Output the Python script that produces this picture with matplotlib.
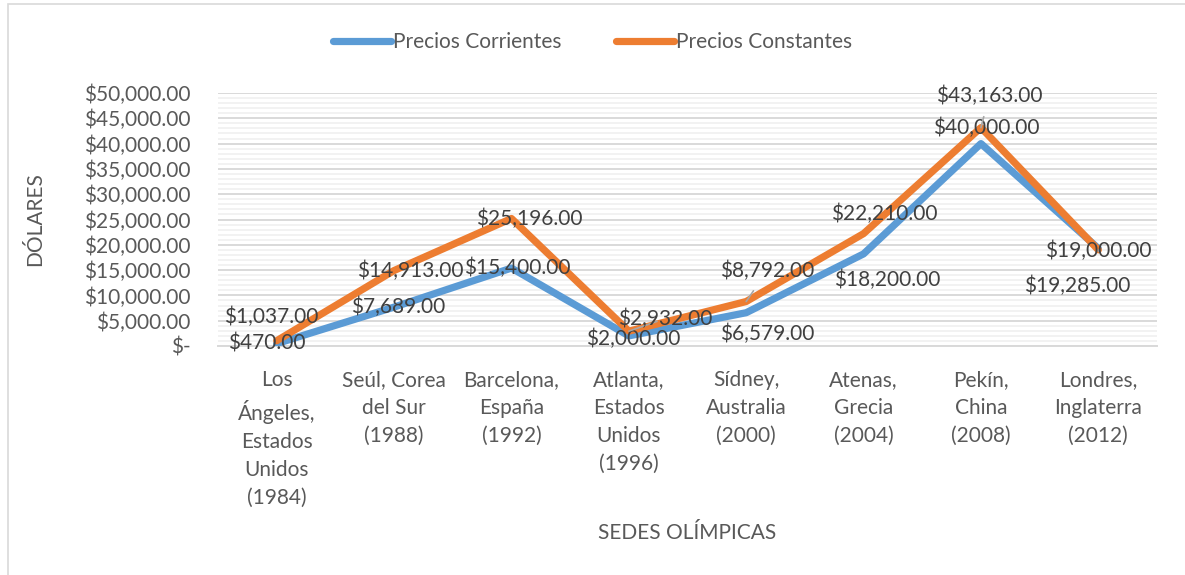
import matplotlib
matplotlib.use('Agg')
import matplotlib.pyplot as plt
from matplotlib.patches import Rectangle
from matplotlib.ticker import MultipleLocator, FuncFormatter

plt.rcParams['font.family'] = ['Lato', 'DejaVu Sans']

sedes = [
    'Los\nÁngeles,\nEstados\nUnidos\n(1984)',
    'Seúl, Corea\ndel Sur\n(1988)',
    'Barcelona,\nEspaña\n(1992)',
    'Atlanta,\nEstados\nUnidos\n(1996)',
    'Sídney,\nAustralia\n(2000)',
    'Atenas,\nGrecia\n(2004)',
    'Pekín,\nChina\n(2008)',
    'Londres,\nInglaterra\n(2012)',
]
corrientes = [470, 7689, 15400, 2000, 6579, 18200, 40000, 19285]
constantes = [1037, 14913, 25196, 2932, 8792, 22210, 43163, 19000]

# label offsets in points (dx, dy), and whether a leader line is drawn
off_corr = [(-7, 0), (3, 0), (4, 0), (3, -2), (15, -15), (17, -19), (4, 11), (-15, -27)]
off_cons = [(-4, 17), (12, 0), (13, 0), (26, 9), (15, 22), (15, 14), (6, 23), (0, -1)]
leader_cons = [False, False, False, True, True, False, True, True]

BLUE = '#5B9BD5'
ORANGE = '#ED7D31'
GREY = '#595959'
FS = 15

fig = plt.figure(figsize=(11.85, 5.75), dpi=100)
fig.patches.append(Rectangle((8 / 1185, -0.1), 1.2, 1.1 - 4 / 575,
                             transform=fig.transFigure, fill=False,
                             edgecolor='#D9D9D9', linewidth=1.2))
ax = fig.add_axes([218 / 1185, 1 - 346 / 575, 939 / 1185, 253 / 575])

x = list(range(len(sedes)))
ax.plot(x, corrientes, color=BLUE, lw=5.2, solid_capstyle='round',
        solid_joinstyle='round', label='Precios Corrientes', zorder=3)
ax.plot(x, constantes, color=ORANGE, lw=5.2, solid_capstyle='round',
        solid_joinstyle='round', label='Precios Constantes', zorder=4)

money = lambda v: f'${v:,.2f}'

for i, v in enumerate(corrientes):
    ax.annotate(money(v), (i, v), xytext=off_corr[i], textcoords='offset points',
                ha='center', va='center', fontsize=FS, color='#404040', zorder=5)
for i, v in enumerate(constantes):
    props = dict(arrowstyle='-', color='#A6A6A6', lw=1.2,
                 shrinkA=6, shrinkB=0) if leader_cons[i] else None
    ax.annotate(money(v), (i, v), xytext=off_cons[i], textcoords='offset points',
                ha='center', va='center', fontsize=FS, color='#404040',
                arrowprops=props, zorder=5)

ax.set_xlim(-0.5, len(sedes) - 0.5)
ax.set_ylim(0, 50000)
ax.yaxis.set_major_locator(MultipleLocator(5000))
ax.yaxis.set_minor_locator(MultipleLocator(1000))
ax.yaxis.set_major_formatter(FuncFormatter(lambda v, p: '$-' if v == 0 else money(v)))
ax.grid(which='major', axis='y', color='#D9D9D9', lw=1.4, zorder=1)
ax.grid(which='minor', axis='y', color='#F2F2F2', lw=1.4, zorder=0)
ax.set_axisbelow(True)
for s in ['top', 'right', 'left']:
    ax.spines[s].set_visible(False)
ax.spines['bottom'].set_color('#D9D9D9')
ax.spines['bottom'].set_linewidth(1.4)

ax.set_xticks(x)
ax.set_xticklabels(sedes, fontsize=FS, color=GREY, linespacing=1.5)
ax.tick_params(axis='x', length=0, pad=17)
ax.tick_params(axis='y', which='both', length=0, pad=20, labelsize=FS, labelcolor=GREY)

ax.set_ylabel('DÓLARES', fontsize=FS, color=GREY, labelpad=28)
ax.set_xlabel('SEDES OLÍMPICAS', fontsize=FS, color=GREY, labelpad=11)

leg = ax.legend(loc='center', bbox_to_anchor=(0.5, 1 - 42 / 575), bbox_transform=fig.transFigure,
                ncol=2, frameon=False, fontsize=FS, handlelength=2.8,
                handletextpad=0.1, columnspacing=2.6)
for t in leg.get_texts():
    t.set_color(GREY)

fig.savefig('out.png', dpi=100)
